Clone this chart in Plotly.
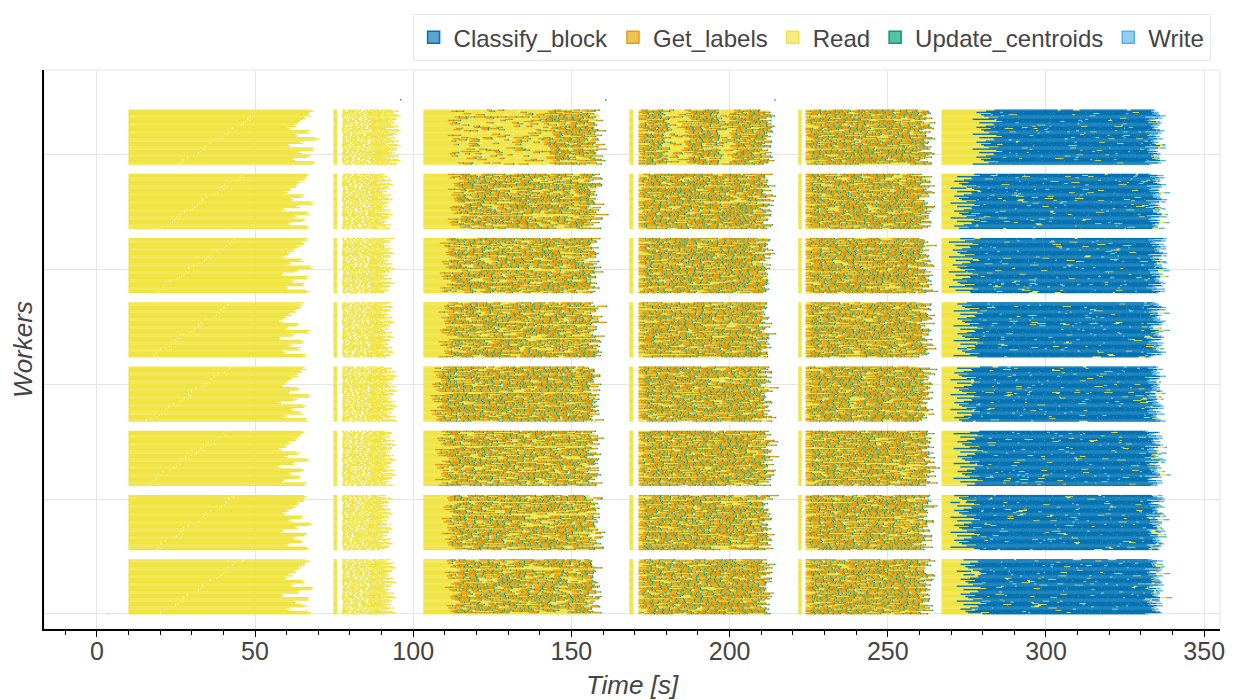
import plotly.graph_objects as go

# task types (legend order) and their colours
task_names = ["Classify_block", "Get_labels", "Read", "Update_centroids", "Write"]
task_colors = ["#0072B2", "#E69F00", "#F0E442", "#009E73", "#56B4E9"]
legend_fill = ["rgba(0,114,178,0.65)", "rgba(230,159,0,0.65)", "rgba(240,228,66,0.65)",
               "rgba(0,158,115,0.65)", "rgba(86,180,233,0.65)"]

n_nodes = 8
workers_per_node = 48
node_stride = 56

row_jitter = [0.0, 1.3, -0.7, 0.5, -1.4, 0.9, -0.2, 1.7, -1.0, 0.3, 0.8, -0.5, 1.1]

# first read phase (s)
read1_start = 10.0
read1_base = [57.5, 57.0, 56.0, 56.5, 56.0, 57.0, 57.5, 59.0]
read1_profile = [9.0, 8.0, 6.5, 5.0, 3.5, 2.0, 7.5, 4.0, 10.5, 6.0, 1.5, 9.0, 5.0, 8.0, 3.0, 9.5]
read1_split = [20.0, 18.0, 15.0, 16.0, 17.0, 18.0, 20.0, 26.0]

# second read phase
read2_strip = [74.8, 75.9]
read2_start = 77.4
read2_end = [92.0, 91.0, 92.0, 92.5, 91.5, 91.5, 91.0, 93.5]
read2_pieces = [1.1, 0.7, 1.5, 0.9, 2.1, 1.0, 0.8, 1.3, 2.6]
read2_gaps = [0.5, 0.3, 0.8, 0.4, 0.6, 0.2, 0.9, 0.5, 0.3, 0.7]

# k-means iterations (read + get labels + update centroids)
iter_strip = [None, [168.3, 169.5], [221.7, 222.8]]
iter_start = [103.2, 171.2, 224.0]
iter_lead = [[112.0, 111.0, 109.0, 107.5, 110.0, 110.5, 113.0, 113.0],
             [171.2, 171.2, 171.2, 171.2, 171.2, 171.2, 171.2, 171.2],
             [224.0, 224.0, 224.0, 224.0, 224.0, 224.0, 224.0, 224.0]]
iter_end = [[156.0, 156.5, 156.0, 156.0, 156.5, 156.0, 156.5, 157.0],
            [210.5, 210.5, 211.0, 210.5, 210.0, 210.5, 210.5, 211.0],
            [261.0, 261.0, 261.5, 261.0, 261.0, 261.0, 261.0, 261.5]]
iter_yellow_share = [[3, 3, 3, 2, 3, 3, 3, 3],
                     [2, 2, 2, 2, 2, 2, 2, 2],
                     [2, 2, 2, 2, 2, 2, 2, 2]]
top_node_bands = [[[113.0, 141.0]], [[178.7, 185.5], [196.0, 199.5]], []]
label_durs = [1.6, 2.2, 1.2, 2.8, 1.9, 1.4, 2.5, 1.7]
centroid_dur = 0.45
iter_read_durs = [1.5, 3.0, 0.9, 2.2, 4.0, 1.2]
iter_gaps = [0.0, 0.0, 0.1, 0.0, 0.0, 0.3, 0.0, 0.0, 0.0, 0.6, 0.0, 0.0, 0.15]

# classify + write phase
cls_start = 267.0
cls_lead = [276.0, 274.0, 275.0, 274.0, 275.0, 273.5, 274.0, 281.0]
cls_end = [334.5, 335.0, 334.5, 334.5, 335.0, 335.5, 335.0, 334.5]
cls_durs = [6.5, 4.0, 8.5, 5.0, 3.5, 7.0, 9.5, 4.5, 5.5, 3.0]
cls_read_durs = [1.8, 0.9, 2.6, 1.2, 0.6, 2.0]
write_durs = [0.8, 1.4, 0.6, 1.1, 1.8]

# master process events
master_row = 448
master_updates = [95.8, 160.6, 214.1]
master_read = [3.3, 4.3]

segs = {name: ([], []) for name in task_names}


def add(name, x0, x1, row):
    xs, ys = segs[name]
    xs += [x0, x1, None]
    ys += [row, row, None]


def pick(values, i):
    return values[i % len(values)]


def idx(g, k, s):
    # spread list picks over workers/tasks so no diagonal banding appears
    return g * 31 + k * (17 + s) + (g * k + s * 5) % 13


for n in range(n_nodes):
    for r in range(workers_per_node):
        row = n * node_stride + r
        g = n * workers_per_node + r
        top = workers_per_node - 1 - r

        # first read
        end1 = read1_base[n] + read1_profile[top // 3] + 0.5 * pick(row_jitter, g)
        split = read1_split[n] + 0.55 * r + 0.8 * pick(row_jitter, g * 2)
        if split < end1 - 2:
            add("Read", read1_start, split, row)
            add("Read", split + 0.2, end1, row)
        else:
            add("Read", read1_start, end1, row)

        # second read
        add("Read", read2_strip[0], read2_strip[1], row)
        t = read2_start + 0.3 * abs(pick(row_jitter, g * 3))
        end2 = read2_end[n] + 1.5 * pick(row_jitter, g * 5 + 2)
        k = 0
        while t < end2:
            d = pick(read2_pieces, idx(g, k, 1))
            late = t > 85
            if late:
                d *= 2.2
            e = min(t + d, end2)
            add("Read", t, e, row)
            t = e + pick(read2_gaps, idx(g, k, 2)) * (0.5 if late else 1.0)
            k += 1

        # iterations
        for p in range(3):
            if iter_strip[p]:
                add("Read", iter_strip[p][0], iter_strip[p][1], row)
            t0 = iter_start[p]
            lead = iter_lead[p][n] + 1.5 * pick(row_jitter, g * 3 + p)
            if lead > t0 + 0.5:
                add("Read", t0, lead, row)
            t = max(lead, t0)
            end = iter_end[p][n] + 1.2 * pick(row_jitter, g * 7 + p * 5)
            k = 0
            while t < end:
                in_band = n == n_nodes - 1 and any(b0 <= t < b1 for b0, b1 in top_node_bands[p])
                share = 8 if in_band else iter_yellow_share[p][n]
                if idx(g, k, 3 + p) % 10 < share:
                    d = pick(iter_read_durs, idx(g, k, 6 + p))
                    add("Read", t, min(t + d, end), row)
                    t += d
                else:
                    d = pick(label_durs, idx(g, k, 9 + p))
                    add("Get_labels", t, t + d, row)
                    add("Update_centroids", t + d, t + d + centroid_dur, row)
                    t += d + centroid_dur
                t += pick(iter_gaps, idx(g, k, 12 + p))
                k += 1

        # classify + write
        lead = cls_lead[n] + 3 * pick(row_jitter, g * 5 + 1)
        add("Read", cls_start, lead, row)
        t = lead
        end = cls_end[n] + 1.5 * pick(row_jitter, g * 3 + 4)
        k = 0
        while t < end - 1:
            d = pick(cls_durs, idx(g, k, 15))
            e = min(t + d, end - 1)
            add("Classify_block", t, e, row)
            t = e
            m = idx(g, k, 16) % 11
            if m in (0, 5):
                d = pick(cls_read_durs, idx(g, k, 17))
                add("Read", t, t + d, row)
                t += d
            elif m == 3:
                d = pick(write_durs, idx(g, k, 18)) * 0.5
                add("Write", t, t + d, row)
                t += d
            k += 1
        add("Write", t, t + pick(write_durs, g + k), row)

for x in master_updates:
    add("Update_centroids", x, x + 0.5, master_row)
add("Read", master_read[0], master_read[1], 0)

fig = go.Figure()

# legend entries (bar swatches)
for name, col, fill in zip(task_names, task_colors, legend_fill):
    fig.add_trace(go.Bar(x=[None], y=[None], orientation="h", name=name,
                         marker=dict(color=fill, line=dict(color=col, width=1.5))))

draw_order = ["Read", "Get_labels", "Update_centroids", "Classify_block", "Write"]
for name in draw_order:
    col = task_colors[task_names.index(name)]
    xs, ys = segs[name]
    fig.add_trace(go.Scatter(x=xs, y=ys, mode="lines", name=name, showlegend=False,
                             hoverinfo="skip", line=dict(color=col, width=1.4)))

fig.update_layout(
    width=1234, height=692,
    margin=dict(l=36, r=22, t=62, b=71, autoexpand=False),
    plot_bgcolor="white", paper_bgcolor="white",
    font=dict(family="Liberation Sans, Arial", size=24, color="#444"),
    barmode="overlay",
    legend=dict(orientation="h", x=0.992, xanchor="right", y=1.016, yanchor="bottom",
                bordercolor="#e8e8e8", borderwidth=1, bgcolor="white", font=dict(size=24)),
    shapes=[dict(type="rect", xref="paper", yref="paper", x0=0, x1=1, y0=0, y1=1,
                 line=dict(color="#e5e5e5", width=1), layer="below")],
)
fig.update_xaxes(
    range=[-16.7, 355], tick0=0, dtick=50, ticks="outside", ticklen=6, tickcolor="black",
    showline=True, linecolor="black", linewidth=1.5, gridcolor="#e5e5e5", zeroline=False,
    tickfont=dict(size=25), automargin=False, ticklabelstandoff=-7,
    minor=dict(dtick=10, ticks="outside", ticklen=4, tickcolor="black", showgrid=False),
    title=dict(text="Time [s]", font=dict(size=26, style="italic"), standoff=14),
)
fig.update_yaxes(
    range=[-13.3, 474], dtick=100, showticklabels=False, ticks="", automargin=False,
    showline=True, linecolor="black", linewidth=1.5, gridcolor="#e5e5e5", zeroline=False,
    title=dict(text="Workers", font=dict(size=26, style="italic"), standoff=8),
)

fig.write_html("out.html")
